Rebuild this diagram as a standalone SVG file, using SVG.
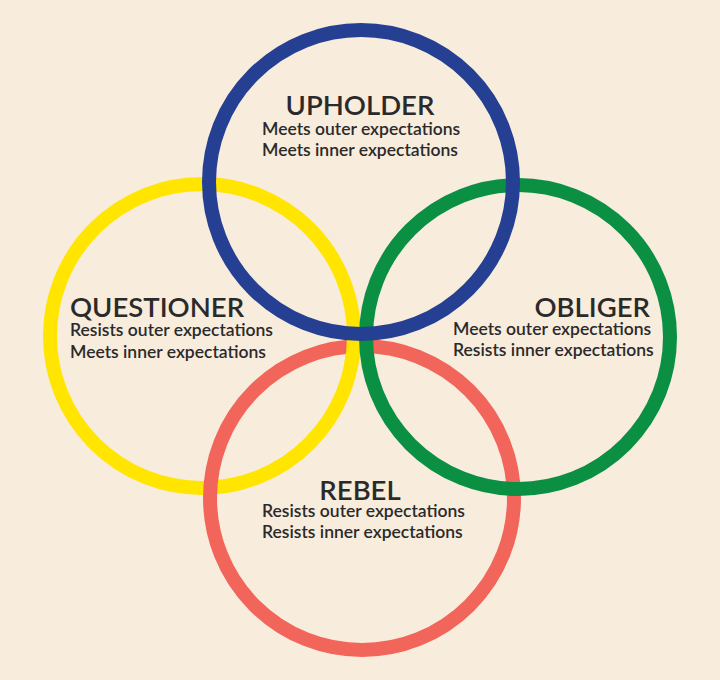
<svg xmlns="http://www.w3.org/2000/svg" width="720" height="680" viewBox="0 0 720 680">
  <defs>
    <style>
      .ring { fill: none; stroke-width: 14; }
      .blue { stroke: #253F92; }
      .yellow { stroke: #FFE500; }
      .green { stroke: #0A8F43; }
      .red { stroke: #F2655A; }
      .title { font-family: Lato, "Open Sans", "Liberation Sans", sans-serif; font-size: 27.5px; font-weight: 600; fill: #2A2A2A; }
      .sub { font-family: Lato, "Open Sans", "Liberation Sans", sans-serif; font-size: 17.5px; font-weight: 600; fill: #2A2A2A; }
    </style>
    <clipPath id="centerPatch">
      <rect x="330" y="336" width="31" height="30"/>
    </clipPath>
  </defs>
  <rect width="720" height="680" fill="#F8ECDD"/>
  <g id="connectors">
    <circle class="ring yellow" cx="202" cy="336" r="152"/>
    <circle class="ring red" cx="362" cy="498" r="152"/>
    <circle class="ring yellow" cx="202" cy="336" r="152" clip-path="url(#centerPatch)"/>
    <circle class="ring green" cx="518" cy="337" r="152"/>
    <circle class="ring blue" cx="361" cy="182" r="152"/>
  </g>
  <g id="upholder">
    <text class="title" x="360" y="115" text-anchor="middle">UPHOLDER</text>
    <text class="sub" x="262" y="135">Meets outer expectations</text>
    <text class="sub" x="262" y="156">Meets inner expectations</text>
  </g>
  <g id="questioner">
    <text class="title" x="70" y="317">QUESTIONER</text>
    <text class="sub" x="70" y="336">Resists outer expectations</text>
    <text class="sub" x="70" y="358">Meets inner expectations</text>
  </g>
  <g id="obliger">
    <text class="title" x="650" y="317" text-anchor="end">OBLIGER</text>
    <text class="sub" x="453" y="335">Meets outer expectations</text>
    <text class="sub" x="453" y="356">Resists inner expectations</text>
  </g>
  <g id="rebel">
    <text class="title" x="360" y="500" text-anchor="middle">REBEL</text>
    <text class="sub" x="262" y="517">Resists outer expectations</text>
    <text class="sub" x="262" y="538">Resists inner expectations</text>
  </g>
</svg>
